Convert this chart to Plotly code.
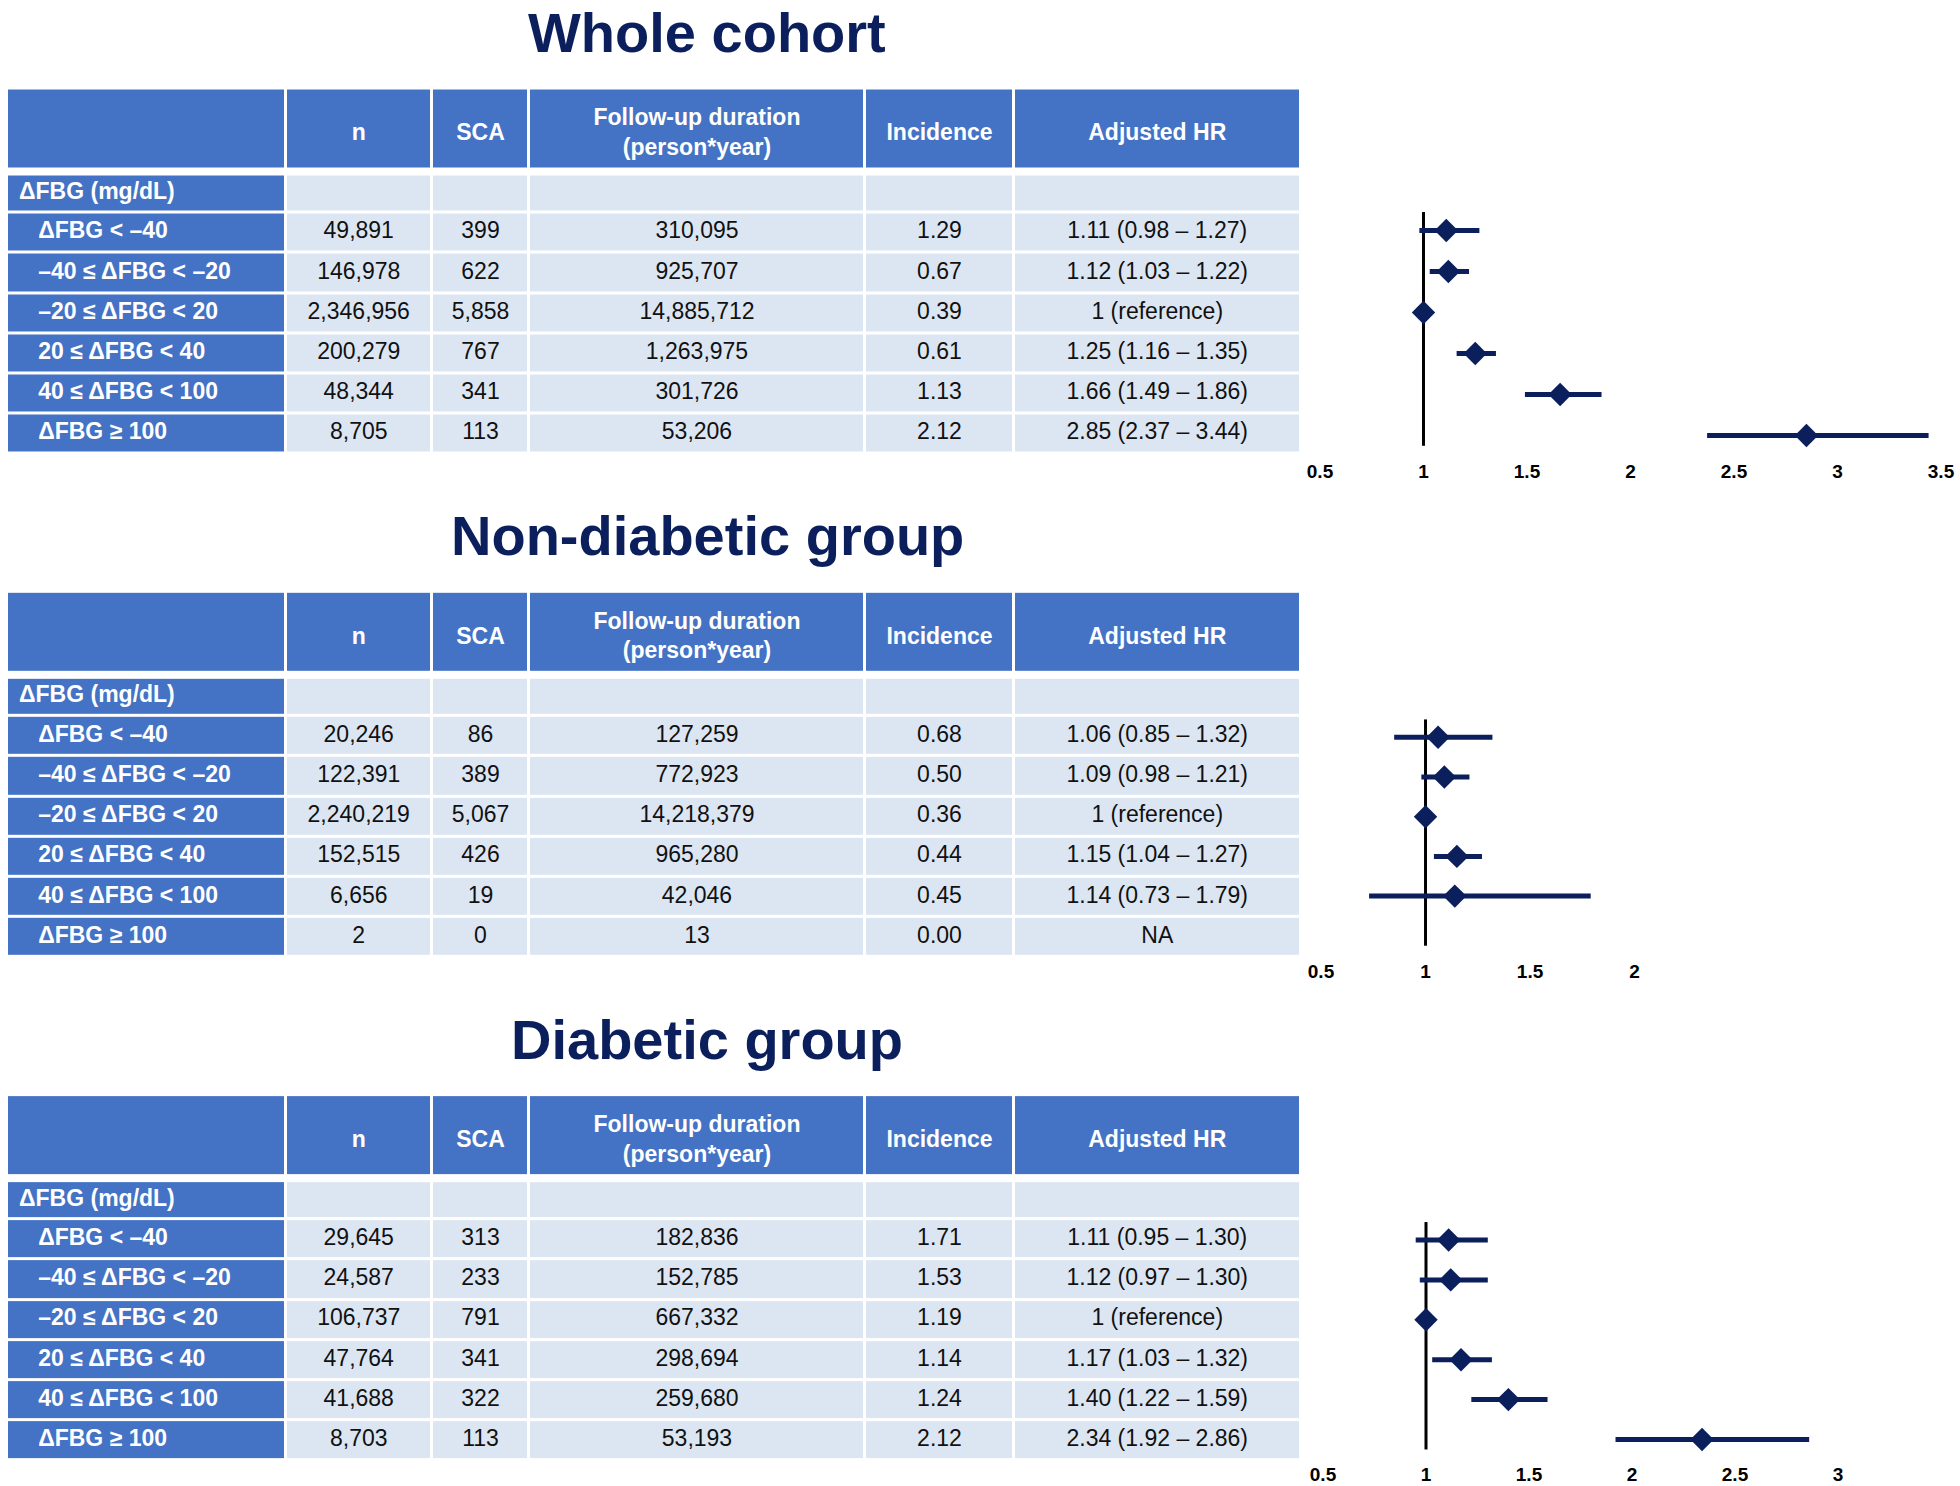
import plotly.graph_objects as go

# ------------------------------------------------------------------ data
group_titles = ["Whole cohort", "Non-diabetic group", "Diabetic group"]
header_labels = ["", "n", "SCA", "Follow-up duration<br>(person*year)", "Incidence", "Adjusted HR"]
section_label = "ΔFBG (mg/dL)"
categories = ["ΔFBG < –40", "–40 ≤ ΔFBG < –20", "–20 ≤ ΔFBG < 20",
              "20 ≤ ΔFBG < 40", "40 ≤ ΔFBG < 100", "ΔFBG ≥ 100"]

whole_n = [49891, 146978, 2346956, 200279, 48344, 8705]
whole_sca = [399, 622, 5858, 767, 341, 113]
whole_fu = [310095, 925707, 14885712, 1263975, 301726, 53206]
whole_inc = [1.29, 0.67, 0.39, 0.61, 1.13, 2.12]
whole_hr = [1.11, 1.12, 1.0, 1.25, 1.66, 2.85]
whole_lo = [0.98, 1.03, None, 1.16, 1.49, 2.37]
whole_hi = [1.27, 1.22, None, 1.35, 1.86, 3.44]

nondm_n = [20246, 122391, 2240219, 152515, 6656, 2]
nondm_sca = [86, 389, 5067, 426, 19, 0]
nondm_fu = [127259, 772923, 14218379, 965280, 42046, 13]
nondm_inc = [0.68, 0.50, 0.36, 0.44, 0.45, 0.00]
nondm_hr = [1.06, 1.09, 1.0, 1.15, 1.14, None]
nondm_lo = [0.85, 0.98, None, 1.04, 0.73, None]
nondm_hi = [1.32, 1.21, None, 1.27, 1.79, None]

dm_n = [29645, 24587, 106737, 47764, 41688, 8703]
dm_sca = [313, 233, 791, 341, 322, 113]
dm_fu = [182836, 152785, 667332, 298694, 259680, 53193]
dm_inc = [1.71, 1.53, 1.19, 1.14, 1.24, 2.12]
dm_hr = [1.11, 1.12, 1.0, 1.17, 1.40, 2.34]
dm_lo = [0.95, 0.97, None, 1.03, 1.22, 1.92]
dm_hi = [1.30, 1.30, None, 1.32, 1.59, 2.86]

whole_ticks = [0.5, 1, 1.5, 2, 2.5, 3, 3.5]
nondm_ticks = [0.5, 1, 1.5, 2]
dm_ticks = [0.5, 1, 1.5, 2, 2.5, 3]

# ------------------------------------------------------------------ style / layout constants
W, H = 1960, 1486
FONT = "Liberation Sans, Arial, sans-serif"
NAVY = "#0b1f5c"
HEAD_BLUE = "#4472c4"
CELL_BLUE = "#dce6f3"
TEXT_DARK = "#111111"

PANEL_STEP = 503.3
TABLE_TOP = 88.5
TABLE_LEFT = 7.0
COL_W = [278.5, 146.5, 97.0, 336.0, 149.0, 286.5]
ROW_H = [81.3, 4.4, 38.4] + [40.2] * 6
GAP = 3
LABEL_PAD = 12
HEADER_TEXT_Y = 46
TITLE_X = 707
TITLE_CAP_CENTER = 32.5

FOREST_X = [(1320, 1941), (1321, 1634.6), (1323, 1838)]
FOREST_ROWS = [(230.5, 41.0), (737.3, 39.7), (1240.0, 39.9)]
Y_RANGE = (-0.45, 5.25)

panels = [
    dict(title=group_titles[0], n=whole_n, sca=whole_sca, fu=whole_fu, inc=whole_inc,
         hr=whole_hr, lo=whole_lo, hi=whole_hi, ticks=whole_ticks),
    dict(title=group_titles[1], n=nondm_n, sca=nondm_sca, fu=nondm_fu, inc=nondm_inc,
         hr=nondm_hr, lo=nondm_lo, hi=nondm_hi, ticks=nondm_ticks),
    dict(title=group_titles[2], n=dm_n, sca=dm_sca, fu=dm_fu, inc=dm_inc,
         hr=dm_hr, lo=dm_lo, hi=dm_hi, ticks=dm_ticks),
]


def fmt_hr(hr, lo, hi):
    if hr is None:
        return "NA"
    if lo is None:
        return f"{hr:g} (reference)"
    return f"{hr:.2f} ({lo:.2f} – {hi:.2f})"


def cumsum(vals):
    out = [0.0]
    for v in vals:
        out.append(out[-1] + v)
    return out


col_edges = cumsum(COL_W)
row_edges = cumsum(ROW_H)
table_w = col_edges[-1]
table_h = row_edges[-1]
col_centers = [(a + b) / 2 for a, b in zip(col_edges[:-1], col_edges[1:])]
row_centers = [(a + b) / 2 for a, b in zip(row_edges[:-1], row_edges[1:])]

fig = go.Figure()
layout_axes = {}
shapes = []
annotations = []

for p, pan in enumerate(panels):
    top = TABLE_TOP + p * PANEL_STEP

    # ---------------- table (cells through a heatmap on its own axes)
    tx, ty = f"x{p + 4}", f"y{p + 4}"
    z = [[0] * 6, [None] * 6, [0, 1, 1, 1, 1, 1]] + [[0, 1, 1, 1, 1, 1] for _ in categories]
    fig.add_trace(go.Heatmap(
        x=col_edges, y=row_edges, z=z, xaxis=tx, yaxis=ty,
        colorscale=[[0, HEAD_BLUE], [1, CELL_BLUE]], zmin=0, zmax=1,
        xgap=GAP, ygap=GAP, showscale=False, hoverinfo="skip"))

    # header text
    fig.add_trace(go.Scatter(
        x=col_centers[1:], y=[HEADER_TEXT_Y] * 5, xaxis=tx, yaxis=ty,
        mode="text", text=[f"<b>{t}</b>" for t in header_labels[1:]],
        textposition="middle center", cliponaxis=False, hoverinfo="skip",
        textfont=dict(family=FONT, size=23, color="white")))

    # row labels
    labels = [f"<b>{section_label}</b>"] + [f"<b>\u00a0\u00a0\u00a0{c}</b>" for c in categories]
    fig.add_trace(go.Scatter(
        x=[LABEL_PAD] * len(labels), y=row_centers[2:], xaxis=tx, yaxis=ty,
        mode="text", text=labels, textposition="middle right", cliponaxis=False,
        hoverinfo="skip", textfont=dict(family=FONT, size=23, color="white")))

    # body values
    cols = [
        [f"{v:,}" for v in pan["n"]],
        [f"{v:,}" for v in pan["sca"]],
        [f"{v:,}" for v in pan["fu"]],
        [f"{v:.2f}" for v in pan["inc"]],
        [fmt_hr(a, b, c) for a, b, c in zip(pan["hr"], pan["lo"], pan["hi"])],
    ]
    xs, ys, ts = [], [], []
    for ci, vals in enumerate(cols):
        for ri, t in enumerate(vals):
            xs.append(col_centers[ci + 1])
            ys.append(row_centers[3 + ri])
            ts.append(t)
    fig.add_trace(go.Scatter(
        x=xs, y=ys, xaxis=tx, yaxis=ty, mode="text", text=ts,
        textposition="middle center", cliponaxis=False, hoverinfo="skip",
        textfont=dict(family=FONT, size=23, color=TEXT_DARK)))

    layout_axes[f"xaxis{p + 4}"] = dict(
        domain=[TABLE_LEFT / W, (TABLE_LEFT + table_w) / W], range=[0, table_w],
        visible=False, anchor=ty, fixedrange=True)
    layout_axes[f"yaxis{p + 4}"] = dict(
        domain=[1 - (top + table_h) / H, 1 - top / H], range=[table_h, 0],
        visible=False, anchor=tx, fixedrange=True)

    # ---------------- forest plot
    fx = "x" if p == 0 else f"x{p + 1}"
    fy = "y" if p == 0 else f"y{p + 1}"
    hr, lo, hi = pan["hr"], pan["lo"], pan["hi"]
    plus = [None if h is None else (0 if u is None else u - h) for h, u in zip(hr, hi)]
    minus = [None if h is None else (0 if l is None else h - l) for h, l in zip(hr, lo)]
    fig.add_trace(go.Scatter(
        x=hr, y=list(range(len(categories))), xaxis=fx, yaxis=fy,
        mode="markers", cliponaxis=False, hoverinfo="skip",
        marker=dict(symbol="diamond", size=18, color=NAVY, line=dict(width=0)),
        error_x=dict(type="data", symmetric=False, array=plus, arrayminus=minus,
                     thickness=5, width=0, color=NAVY)))

    x0, x1 = FOREST_X[p]
    r0, pitch = FOREST_ROWS[p]
    ytop = r0 + Y_RANGE[0] * pitch
    ybot = r0 + Y_RANGE[1] * pitch
    ticks = pan["ticks"]
    layout_axes["xaxis" if p == 0 else f"xaxis{p + 1}"] = dict(
        domain=[x0 / W, x1 / W], range=[ticks[0], ticks[-1]], anchor=fy,
        tickmode="array", tickvals=ticks, ticktext=[f"{t:g}" for t in ticks],
        showgrid=False, zeroline=False, showline=False,
        ticks="outside", ticklen=8, tickcolor="rgba(0,0,0,0)",
        tickfont=dict(family=FONT, size=19, color="black", weight="bold"),
        fixedrange=True)
    layout_axes["yaxis" if p == 0 else f"yaxis{p + 1}"] = dict(
        domain=[1 - ybot / H, 1 - ytop / H], range=[Y_RANGE[1], Y_RANGE[0]],
        visible=False, anchor=fx, fixedrange=True)

    shapes.append(dict(type="line", xref=fx, yref=f"{fy} domain", x0=1, x1=1, y0=0, y1=1,
                       line=dict(color="black", width=3), layer="below"))

    annotations.append(dict(
        text=f"<b>{pan['title']}</b>", xref="paper", yref="paper",
        x=TITLE_X / W, y=1 - (TITLE_CAP_CENTER + p * PANEL_STEP) / H,
        xanchor="center", yanchor="middle", showarrow=False,
        font=dict(family=FONT, size=56, color=NAVY)))

fig.update_layout(
    width=W, height=H, autosize=False, margin=dict(l=0, r=0, t=0, b=0, autoexpand=False),
    paper_bgcolor="white", plot_bgcolor="rgba(0,0,0,0)",
    showlegend=False, hovermode=False,
    shapes=shapes, annotations=annotations,
    **layout_axes)

fig.write_html(
    "out.html",
    config={"responsive": False, "displayModeBar": False},
    post_script="document.body.style.margin='0';document.body.style.overflow='hidden';",
)
